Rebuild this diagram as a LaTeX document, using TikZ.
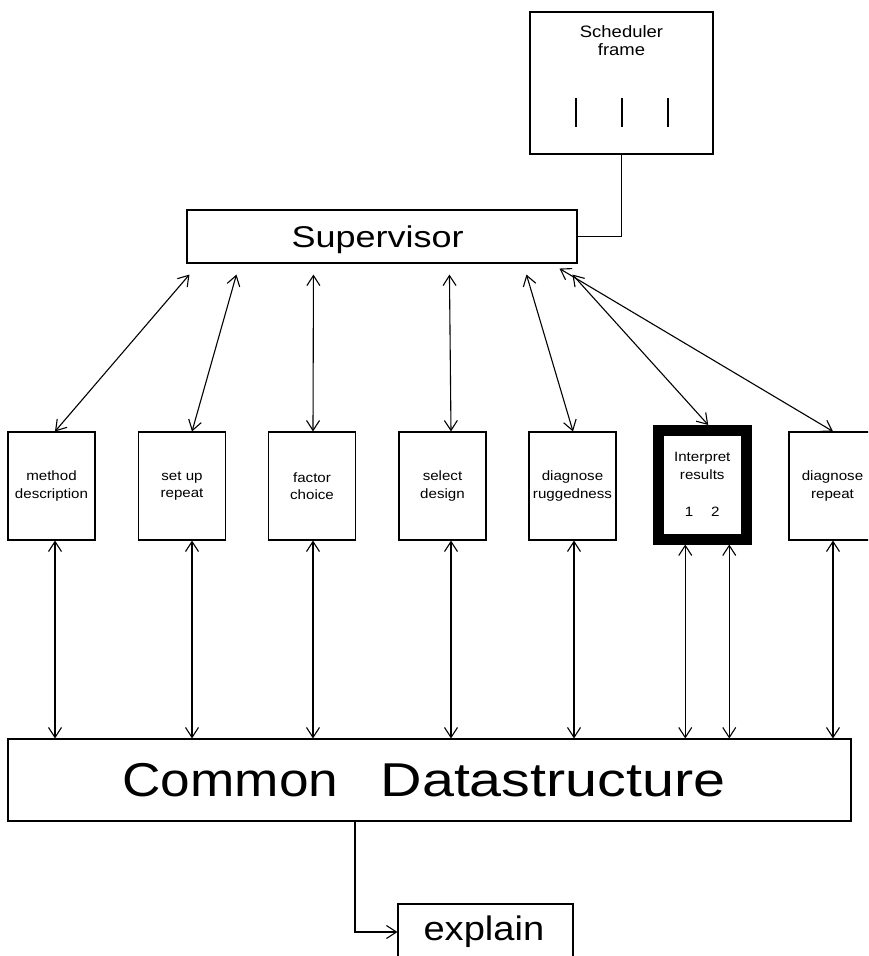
\documentclass[tikz,border=0pt]{standalone}
\usepackage{fontspec}
\setmainfont{Liberation Sans}
\newfontfamily\hfont[FakeStretch=1.12]{Liberation Sans}
\newfontfamily\hfontw[FakeStretch=1.2]{Liberation Sans}
\newfontfamily\hfontx[FakeStretch=1.21]{Liberation Sans}
\usetikzlibrary{arrows.meta,calc}
\begin{document}
\begin{tikzpicture}[x=1pt,y=-1pt,
  line width=1.1pt,
  >={Straight Barb[length=10pt,width=13pt]},
  box/.style={draw, minimum width=87pt, minimum height=108pt, inner sep=0pt,
    align=center, font=\hfont\fontsize{13.5}{17.5}\selectfont},
  plainbox/.style={draw, inner sep=0pt},
  conn/.style={<->},
  bigtext/.style={inner sep=0pt, anchor=base west}
]
\path[use as bounding box, clip] (0,0) rectangle (868,956);

% Scheduler frame
\node[plainbox, minimum width=183pt, minimum height=142pt] (sched) at (621.5,83) {};
\node[inner sep=0pt, anchor=north, align=center, font=\hfont\fontsize{16.5}{18}\selectfont] (schedtext) at (621.5,24.5) {Scheduler\\frame};
\draw (576,98) -- (576,127);
\draw (622,98) -- (622,127);
\draw (668,98) -- (668,127);

% Supervisor
\node[plainbox, minimum width=390pt, minimum height=53pt] (sup) at (382,236.5) {};
\node[bigtext, font=\hfontw\fontsize{30}{36}\selectfont] (suptext) at (291,247) {Supervisor};

% Modules
\node[box] (b1) at (51.5,486) {method\\description};
\node[box] (b2) at (182,486) {set up\\repeat};
\node[box] (b3) at (312,486) {factor\\choice};
\node[box] (b4) at (442.5,486) {select\\design};
\node[box] (b5) at (572.5,486) {diagnose\\ruggedness};
\node[box, line width=11pt, minimum width=87.5pt, minimum height=108.5pt] (ip) at (702.25,484.75)
  {Interpret\\results\\[20pt]1\hspace{18pt}2};
\node[box] (b7) at (832.5,486) {diagnose\\repeat};

% Common Datastructure
\node[plainbox, minimum width=843pt, minimum height=82pt] (cds) at (429.5,780) {};
\node[bigtext, font=\hfont\fontsize{47.5}{56}\selectfont] (cdstext) at (122,796) {Common};
\node[bigtext, font=\hfontx\fontsize{47.5}{56}\selectfont] (cdstext2) at (380,796) {Datastructure};

% explain
\node[plainbox, minimum width=175pt, minimum height=70pt] (ex) at (485.5,939) {};
\node[bigtext, font=\hfont\fontsize{34}{40}\selectfont] (extext) at (423,940) {explain};

% scheduler link
\draw (sched.south) |- (sup.east);

% supervisor <-> modules
\draw[conn] ($(sup.south west)+(3,11)$) -- ([xshift=3.5pt]b1.north);
\draw[conn] ($(sup.south west)+(50,11)$) -- ([xshift=10pt]b2.north);
\draw[conn] ($(sup.south west)+(127,11)$) -- ([xshift=1pt]b3.north);
\draw[conn] ($(sup.south west)+(263,11)$) -- ([xshift=8.5pt]b4.north);
\draw[conn] ($(sup.south west)+(340,11)$) -- ([xshift=0.5pt]b5.north);
\draw[conn] ($(sup.south west)+(386,11)$) -- ([xshift=6pt]ip.north);
\draw[conn] ($(sup.south west)+(373,5)$) -- ([xshift=0.5pt]b7.north);

% modules <-> common datastructure
\draw[conn] ([xshift=3.5pt]b1.south) -- ([xshift=3.5pt]b1.south |- cds.north);
\draw[conn] ([xshift=10pt]b2.south) -- ([xshift=10pt]b2.south |- cds.north);
\draw[conn] ([xshift=1pt]b3.south) -- ([xshift=1pt]b3.south |- cds.north);
\draw[conn] ([xshift=8.5pt]b4.south) -- ([xshift=8.5pt]b4.south |- cds.north);
\draw[conn] ([xshift=1.5pt]b5.south) -- ([xshift=1.5pt]b5.south |- cds.north);
\draw[conn] ([xshift=-17pt]ip.south) -- ([xshift=-17pt]ip.south |- cds.north);
\draw[conn] ([xshift=27pt]ip.south) -- ([xshift=27pt]ip.south |- cds.north);
\draw[conn] ([xshift=0.5pt]b7.south) -- ([xshift=0.5pt]b7.south |- cds.north);

% common -> explain
\coordinate (bend) at (355,932);
\draw[->] (cds.south -| bend) -- (bend) -- (bend -| ex.west);
\end{tikzpicture}
\end{document}
